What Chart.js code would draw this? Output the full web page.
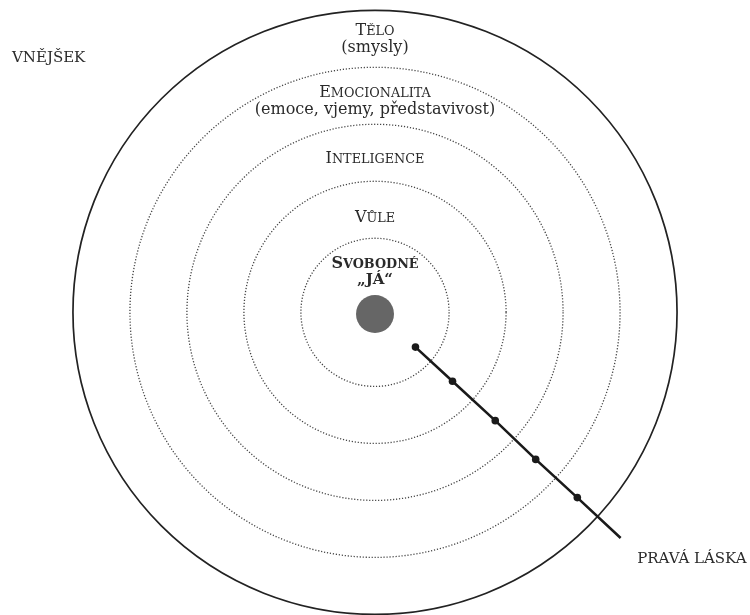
<!DOCTYPE html>
<html>
<head>
<meta charset="utf-8">
<script src="https://cdn.jsdelivr.net/npm/chart.js@4/dist/chart.umd.min.js"></script>
<style>
  html, body { margin: 0; padding: 0; background: #fff; }
  #wrap { width: 750px; height: 615px; }
</style>
</head>
<body>
<div id="wrap"><canvas id="chart"></canvas></div>
<script>
// rings (radius in chart units, innermost first)
const ringRadii = [1.3, 2.3, 3.3, 4.3, 5.3];

// the centre "self"
const selfPoint = [{ x: 0, y: -0.03 }];

// the line of true love (chart units)
const loveX = [0.71, 1.36, 2.11, 2.82, 3.55, 4.31];
const loveY = [-0.61, -1.21, -1.90, -2.58, -3.25, -3.96];

// labels
const labelText = [
  'Tělo', '(smysly)',
  'Emocionalita', '(emoce, vjemy, představivost)',
  'Inteligence', 'Vůle',
  'Svobodné', '„Já“',
  'VNĚJŠEK', 'PRAVÁ LÁSKA'
];
const labelX = [0, 0, 0, 0, 0, 0, 0, 0, -6.37, 4.60];
const labelY = [4.87, 4.57, 3.78, 3.48, 2.62, 1.59, 0.78, 0.50, 4.395, -4.39];
// 'sc' = small caps, 'scb' = bold small caps, 'bu' = bold upper, 'n' = normal
const labelStyle = ['sc', 'n', 'sc', 'n', 'sc', 'sc', 'scb', 'bu', 'n15', 'n15'];
const labelAlign = ['center', 'center', 'center', 'center', 'center', 'center', 'center', 'center', 'left', 'left'];

const lovePoints = loveX.map((x, i) => ({ x: x, y: loveY[i] }));

const FAMILY = '"DejaVu Serif"';

// small caps by hand: first letter full size, the rest upper case and smaller
function drawSmallCaps(ctx, text, x, y, size, bold) {
  const w = bold ? 'bold ' : '';
  const big = w + size + 'px ' + FAMILY;
  const small = w + (size * 0.8) + 'px ' + FAMILY;
  const first = text.charAt(0);
  const rest = text.slice(1).toUpperCase();
  ctx.font = big;
  const w1 = ctx.measureText(first).width;
  ctx.font = small;
  const w2 = ctx.measureText(rest).width;
  const left = x - (w1 + w2) / 2;
  ctx.textAlign = 'left';
  ctx.font = big;
  ctx.fillText(first, left, y);
  ctx.font = small;
  ctx.fillText(rest, left + w1, y);
}

const ringsPlugin = {
  id: 'rings',
  beforeDatasetsDraw(chart) {
    const ctx = chart.ctx;
    const xs = chart.scales.x, ys = chart.scales.y;
    const cx = xs.getPixelForValue(0), cy = ys.getPixelForValue(0);
    ctx.save();
    ringRadii.forEach((r, i) => {
      const pr = xs.getPixelForValue(r) - cx;
      const outer = i === ringRadii.length - 1;
      ctx.beginPath();
      ctx.arc(cx, cy, pr, 0, Math.PI * 2);
      ctx.lineWidth = outer ? 1.7 : 1.3;
      ctx.strokeStyle = outer ? '#222' : '#444';
      ctx.setLineDash(outer ? [] : [1.2, 1.8]);
      ctx.stroke();
    });
    ctx.restore();
  },
  afterDatasetsDraw(chart) {
    const ctx = chart.ctx;
    const xs = chart.scales.x, ys = chart.scales.y;
    ctx.save();
    ctx.fillStyle = '#2a2a2a';
    ctx.textBaseline = 'alphabetic';
    labelText.forEach((t, i) => {
      const px = xs.getPixelForValue(labelX[i]);
      const py = ys.getPixelForValue(labelY[i]);
      const st = labelStyle[i];
      if (st === 'sc' || st === 'scb') {
        drawSmallCaps(ctx, t, px, py, 16, st === 'scb');
      } else if (st === 'bu') {
        ctx.font = 'bold 15px ' + FAMILY;
        ctx.textAlign = labelAlign[i];
        ctx.fillText(t.toUpperCase(), px, py);
      } else {
        const size = st === 'n15' ? 15 : 16;
        ctx.font = size + 'px ' + FAMILY;
        ctx.textAlign = labelAlign[i];
        ctx.fillText(t, px, py);
      }
    });
    ctx.restore();
  }
};

new Chart(document.getElementById('chart'), {
  type: 'scatter',
  data: {
    datasets: [
      {
        label: 'Já',
        data: selfPoint,
        pointRadius: 19,
        pointHoverRadius: 19,
        backgroundColor: '#666',
        borderWidth: 0
      },
      {
        label: 'Pravá láska',
        type: 'line',
        data: lovePoints,
        showLine: true,
        borderColor: '#1a1a1a',
        borderWidth: 2.6,
        pointRadius: [3.8, 3.8, 3.8, 3.8, 3.8, 0],
        pointBackgroundColor: '#1a1a1a',
        pointBorderWidth: 0,
        tension: 0
      }
    ]
  },
  options: {
    responsive: true,
    maintainAspectRatio: false,
    animation: false,
    layout: { padding: 0, autoPadding: false },
    plugins: {
      legend: { display: false },
      tooltip: { enabled: false }
    },
    scales: {
      x: { type: 'linear', min: -6.58, max: 6.58, display: false },
      y: { type: 'linear', min: -5.31, max: 5.48, display: false }
    }
  },
  plugins: [ringsPlugin]
});
</script>
</body>
</html>
